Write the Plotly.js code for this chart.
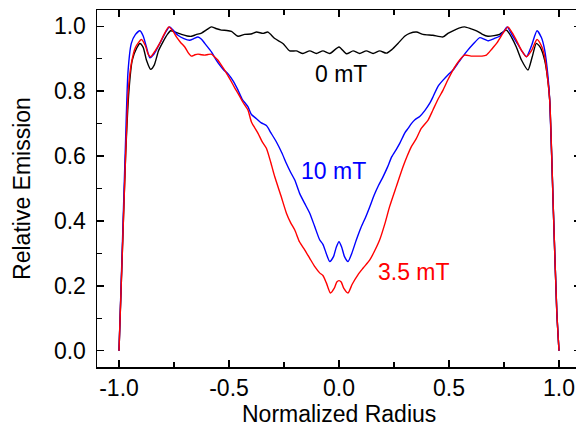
<!DOCTYPE html>
<html>
<head>
<meta charset="utf-8">
<script src="https://cdn.plot.ly/plotly-3.0.1.min.js"></script>
<style>
html, body { margin: 0; padding: 0; overflow: hidden; background: #fff; }
#chart { width: 590px; height: 426px; }
</style>
</head>
<body>
<div id="chart"></div>
<script>
// 0 mT
const x0mT = [-1.0, -0.985, -0.97, -0.955, -0.94, -0.92, -0.905, -0.89, -0.875, -0.856, -0.84, -0.82, -0.8, -0.78, -0.765, -0.745, -0.716, -0.69, -0.671, -0.65, -0.625, -0.6, -0.58, -0.56, -0.535, -0.51, -0.489, -0.459, -0.429, -0.4, -0.375, -0.345, -0.323, -0.292, -0.255, -0.224, -0.194, -0.164, -0.133, -0.103, -0.073, -0.042, 0, 0.034, 0.064, 0.094, 0.124, 0.155, 0.185, 0.215, 0.24, 0.268, 0.3, 0.321, 0.352, 0.382, 0.427, 0.473, 0.495, 0.518, 0.545, 0.571, 0.6, 0.625, 0.65, 0.677, 0.705, 0.73, 0.761, 0.785, 0.806, 0.83, 0.859, 0.878, 0.897, 0.915, 0.935, 0.95, 0.958, 0.975, 0.99, 1.0];
const y0mT = [0, 0.3, 0.6, 0.8, 0.895, 0.932, 0.947, 0.935, 0.895, 0.867, 0.88, 0.925, 0.952, 0.975, 0.986, 0.982, 0.975, 0.97, 0.969, 0.974, 0.979, 0.99, 0.998, 0.993, 0.988, 0.987, 0.984, 0.969, 0.975, 0.976, 0.982, 0.978, 0.982, 0.962, 0.947, 0.924, 0.924, 0.916, 0.924, 0.916, 0.924, 0.916, 0.936, 0.915, 0.924, 0.916, 0.924, 0.916, 0.924, 0.917, 0.928, 0.947, 0.97, 0.978, 0.982, 0.975, 0.972, 0.967, 0.978, 0.986, 0.994, 0.998, 0.992, 0.986, 0.976, 0.969, 0.971, 0.975, 0.988, 0.965, 0.936, 0.895, 0.865, 0.905, 0.947, 0.935, 0.895, 0.83, 0.77, 0.42, 0.12, 0];

// 10 mT
const x10mT = [-1.0, -0.985, -0.97, -0.959, -0.944, -0.925, -0.905, -0.89, -0.875, -0.86, -0.84, -0.82, -0.807, -0.785, -0.77, -0.75, -0.732, -0.705, -0.679, -0.66, -0.641, -0.625, -0.61, -0.58, -0.56, -0.542, -0.525, -0.505, -0.48, -0.459, -0.44, -0.414, -0.398, -0.375, -0.353, -0.33, -0.31, -0.285, -0.26, -0.239, -0.22, -0.201, -0.179, -0.156, -0.133, -0.11, -0.088, -0.073, -0.058, -0.042, -0.025, -0.012, 0, 0.012, 0.025, 0.041, 0.058, 0.079, 0.1, 0.12, 0.14, 0.16, 0.18, 0.2, 0.22, 0.24, 0.26, 0.276, 0.3, 0.314, 0.329, 0.345, 0.367, 0.39, 0.412, 0.427, 0.45, 0.473, 0.495, 0.518, 0.545, 0.579, 0.61, 0.64, 0.66, 0.677, 0.705, 0.73, 0.75, 0.764, 0.785, 0.806, 0.83, 0.852, 0.875, 0.9, 0.92, 0.935, 0.95, 0.958, 0.975, 0.99, 1.0];
const y10mT = [0, 0.32, 0.65, 0.86, 0.947, 0.975, 0.986, 0.97, 0.935, 0.903, 0.915, 0.94, 0.957, 0.985, 0.998, 0.985, 0.972, 0.962, 0.957, 0.962, 0.967, 0.96, 0.947, 0.921, 0.898, 0.88, 0.866, 0.854, 0.83, 0.803, 0.775, 0.752, 0.728, 0.715, 0.702, 0.694, 0.672, 0.644, 0.61, 0.577, 0.55, 0.526, 0.485, 0.454, 0.424, 0.382, 0.342, 0.328, 0.3, 0.275, 0.29, 0.32, 0.336, 0.32, 0.29, 0.275, 0.3, 0.342, 0.38, 0.41, 0.444, 0.48, 0.51, 0.536, 0.565, 0.598, 0.62, 0.639, 0.672, 0.685, 0.7, 0.712, 0.722, 0.74, 0.762, 0.782, 0.815, 0.834, 0.85, 0.865, 0.89, 0.921, 0.945, 0.965, 0.96, 0.955, 0.962, 0.969, 0.985, 0.998, 0.975, 0.952, 0.925, 0.906, 0.94, 0.986, 0.965, 0.926, 0.844, 0.77, 0.42, 0.12, 0];

// 3.5 mT
const x35mT = [-1.0, -0.985, -0.97, -0.958, -0.944, -0.925, -0.898, -0.88, -0.868, -0.856, -0.835, -0.815, -0.795, -0.774, -0.755, -0.739, -0.72, -0.701, -0.685, -0.671, -0.655, -0.641, -0.625, -0.61, -0.595, -0.58, -0.565, -0.55, -0.535, -0.52, -0.505, -0.489, -0.474, -0.459, -0.436, -0.414, -0.398, -0.368, -0.35, -0.33, -0.31, -0.292, -0.265, -0.239, -0.22, -0.201, -0.179, -0.156, -0.133, -0.11, -0.088, -0.073, -0.058, -0.039, -0.022, -0.01, 0, 0.01, 0.022, 0.041, 0.06, 0.086, 0.11, 0.14, 0.16, 0.185, 0.21, 0.23, 0.26, 0.291, 0.31, 0.329, 0.35, 0.374, 0.405, 0.427, 0.45, 0.473, 0.495, 0.518, 0.545, 0.571, 0.6, 0.625, 0.65, 0.67, 0.695, 0.716, 0.745, 0.768, 0.787, 0.806, 0.83, 0.852, 0.875, 0.9, 0.92, 0.935, 0.948, 0.958, 0.975, 0.99, 1.0];
const y35mT = [0, 0.3, 0.6, 0.8, 0.885, 0.935, 0.959, 0.94, 0.915, 0.906, 0.925, 0.947, 0.975, 0.998, 0.985, 0.967, 0.95, 0.936, 0.918, 0.908, 0.912, 0.914, 0.912, 0.911, 0.913, 0.914, 0.905, 0.895, 0.88, 0.865, 0.848, 0.829, 0.81, 0.793, 0.765, 0.742, 0.705, 0.67, 0.645, 0.624, 0.58, 0.536, 0.48, 0.424, 0.395, 0.372, 0.335, 0.311, 0.285, 0.259, 0.24, 0.232, 0.21, 0.178, 0.192, 0.212, 0.216, 0.212, 0.192, 0.178, 0.205, 0.234, 0.255, 0.28, 0.305, 0.342, 0.395, 0.444, 0.505, 0.567, 0.6, 0.629, 0.652, 0.685, 0.711, 0.742, 0.775, 0.803, 0.835, 0.865, 0.893, 0.911, 0.908, 0.908, 0.908, 0.911, 0.93, 0.947, 0.978, 0.998, 0.98, 0.957, 0.925, 0.906, 0.925, 0.959, 0.94, 0.906, 0.84, 0.77, 0.42, 0.12, 0];

const xTickVals = [-1.0, -0.5, 0.0, 0.5, 1.0];
const xTickText = ["-1.0", "-0.5", "0.0", "0.5", "1.0"];
const yTickVals = [0.0, 0.2, 0.4, 0.6, 0.8, 1.0];
const yTickText = ["0.0", "0.2", "0.4", "0.6", "0.8", "1.0"];
const labels = ["0 mT", "10 mT", "3.5 mT"];
const labelX = [0.008, -0.024, 0.34];
const labelY = [0.854, 0.555, 0.243];
const colors = ["#000000", "#0000ff", "#ff0000"];
const xTitle = "Normalized Radius";
const yTitle = "Relative Emission";

const FONT = "Liberation Sans, Arial, Helvetica, sans-serif";

const mk = (x, y, c, name) => ({
  x: x, y: y, type: "scatter", mode: "lines", name: name,
  line: { color: c, width: 1.4, shape: "spline", smoothing: 0.6 },
  hoverinfo: "skip"
});

const data = [
  mk(x0mT, y0mT, colors[0], labels[0]),
  mk(x10mT, y10mT, colors[1], labels[1]),
  mk(x35mT, y35mT, colors[2], labels[2])
];

const axisCommon = {
  showline: true, linecolor: "#000", linewidth: 1.5, mirror: "ticks",
  ticks: "inside", ticklen: 7, tickwidth: 1.3, tickcolor: "#000",
  showgrid: false, zeroline: false, tickmode: "array",
  tickfont: { family: FONT, size: 23, color: "#000" }
};

const annots = labels.map((t, i) => ({
  x: labelX[i], y: labelY[i], xref: "x", yref: "y", text: t, showarrow: false,
  xanchor: "center", yanchor: "middle",
  font: { family: FONT, size: 23, color: colors[i] }
}));
annots.push({
  x: 0, y: -0.133, xref: "x", yref: "paper", text: xTitle, showarrow: false,
  xanchor: "center", yanchor: "middle",
  font: { family: FONT, size: 23, color: "#000" }
});

const layout = {
  width: 590, height: 426,
  margin: { l: 97, r: 9, t: 10, b: 59 },
  paper_bgcolor: "#fff", plot_bgcolor: "#fff",
  showlegend: false,
  font: { family: FONT, color: "#000" },
  xaxis: Object.assign({}, axisCommon, {
    range: [-1.1, 1.1],
    tickvals: xTickVals, ticktext: xTickText,
    minor: { tickvals: [-0.75, -0.25, 0.25, 0.75], ticks: "inside", ticklen: 5, tickwidth: 1.3, tickcolor: "#000", showgrid: false },
    ticklabelstandoff: 0
  }),
  yaxis: Object.assign({}, axisCommon, {
    range: [-0.05, 1.05],
    tickvals: yTickVals, ticktext: yTickText,
    minor: { tickvals: [0.1, 0.3, 0.5, 0.7, 0.9], ticks: "inside", ticklen: 5, tickwidth: 1.3, tickcolor: "#000", showgrid: false },
    ticklabelstandoff: 5,
    title: { text: yTitle, font: { family: FONT, size: 23, color: "#000" }, standoff: 17 }
  }),
  annotations: annots
};

Plotly.newPlot("chart", data, layout, { staticPlot: true, displayModeBar: false });
</script>
</body>
</html>
